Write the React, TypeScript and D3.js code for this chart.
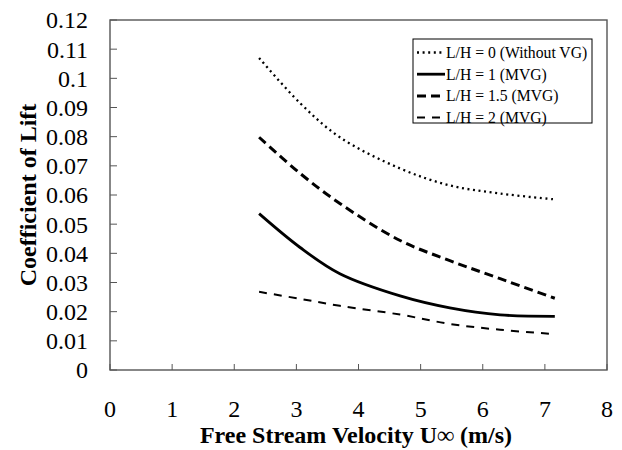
import React from "react";
import * as d3 from "d3";

const velocities = [2.4, 3.06, 3.7, 4.67, 5.47, 6.28, 7.16];
const clWithoutVG = [0.107, 0.0915, 0.0798, 0.0691, 0.0633, 0.0605, 0.0585];
const clLH1 = [0.0536, 0.042, 0.033, 0.0254, 0.0213, 0.0189, 0.0184];
const clLH15 = [0.0798, 0.0674, 0.0571, 0.0444, 0.0375, 0.0313, 0.0246];
const clLH2 = [0.0268, 0.0244, 0.022, 0.019, 0.0158, 0.0138, 0.0123];

const seriesNames = ["L/H = 0 (Without VG)", "L/H = 1 (MVG)", "L/H = 1.5 (MVG)", "L/H = 2 (MVG)"];
const xTicks = [0, 1, 2, 3, 4, 5, 6, 7, 8];
const yTicks = [0, 0.01, 0.02, 0.03, 0.04, 0.05, 0.06, 0.07, 0.08, 0.09, 0.1, 0.11, 0.12];

const styles = [
  { width: 2.3, dash: "2,3.6" },
  { width: 2.8, dash: "none" },
  { width: 3, dash: "9,5" },
  { width: 2, dash: "8,7" },
];

export default function App() {
  const W = 622, H = 450;
  const left = 110, right = 607, top = 20, bottom = 370;
  const x = d3.scaleLinear().domain([0, 8]).range([left, right]);
  const y = d3.scaleLinear().domain([0, 0.12]).range([bottom, top]);
  const all = [clWithoutVG, clLH1, clLH15, clLH2];
  const line = d3
    .line<number>()
    .x((_, i) => x(velocities[i]))
    .y((d) => y(d))
    .curve(d3.curveCatmullRom.alpha(0.5));
  const font = "'Liberation Serif', 'Times New Roman', serif";
  const axisColor = "#555";

  const lgX = 413, lgY = 39, lgW = 179, lgH = 84;
  return (
    <svg width={W} height={H} style={{ position: "absolute", left: 0, top: 0, background: "#fff" }} fontFamily={font}>
      <rect x={0} y={0} width={W} height={H} fill="#fff" />
      <rect x={left} y={top} width={right - left} height={bottom - top} fill="none" stroke={axisColor} strokeWidth={1.4} />
      {yTicks.map((t) => (
        <g key={"y" + t}>
          <line x1={left} x2={left + 7} y1={y(t)} y2={y(t)} stroke={axisColor} strokeWidth={1} />
          <text x={88} y={y(t)} dy="0.35em" textAnchor="end" fontSize={24}>
            {String(+t.toFixed(2))}
          </text>
        </g>
      ))}
      {xTicks.map((t) => (
        <g key={"x" + t}>
          <line x1={x(t)} x2={x(t)} y1={bottom} y2={bottom - 6} stroke={axisColor} strokeWidth={1} />
          <text x={x(t)} y={417} textAnchor="middle" fontSize={24}>
            {t}
          </text>
        </g>
      ))}
      <text x={356} y={443} textAnchor="middle" fontSize={24} fontWeight="bold">
        Free Stream Velocity U∞ (m/s)
      </text>
      <text
        transform={`translate(36,${(top + bottom) / 2}) rotate(-90)`}
        textAnchor="middle"
        fontSize={24}
        fontWeight="bold"
      >
        Coefficient of Lift
      </text>
      {all.map((s, i) => (
        <path
          key={"s" + i}
          d={line(s) || ""}
          fill="none"
          stroke="#000"
          strokeWidth={styles[i].width}
          strokeDasharray={styles[i].dash}
        />
      ))}
      <rect x={lgX} y={lgY} width={lgW} height={lgH} fill="#fff" stroke="#000" strokeWidth={1} />
      {seriesNames.map((n, i) => {
        const cy = lgY + 13.5 + i * 21.7;
        return (
          <g key={"l" + i}>
            <line
              x1={lgX + 4}
              x2={lgX + 32}
              y1={cy}
              y2={cy}
              stroke="#000"
              strokeWidth={styles[i].width}
              strokeDasharray={styles[i].dash}
            />
            <text x={lgX + 33} y={cy} dy="0.35em" fontSize={15.7}>
              {n}
            </text>
          </g>
        );
      })}
    </svg>
  );
}
